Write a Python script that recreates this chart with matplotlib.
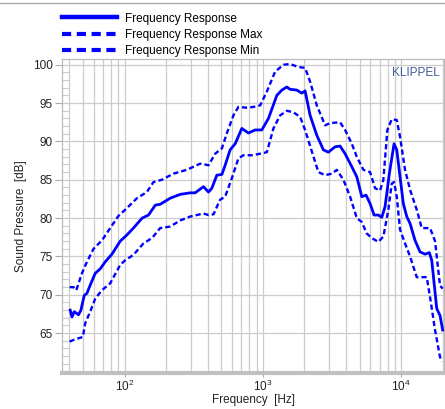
import matplotlib
matplotlib.use("Agg")
import matplotlib.pyplot as plt
from matplotlib.lines import Line2D
from matplotlib.ticker import LogLocator, MultipleLocator, NullFormatter

plt.rcParams["font.family"] = ["Liberation Sans", "DejaVu Sans"]

# ---- data (Hz, dB) ----
f_mid = [40.5, 41.7, 43.3, 46.5, 48.4, 51.1, 53.5, 57.2, 61.4, 66.8, 72.5, 81.1, 93.1, 104, 116, 134, 149,
         167, 181, 214, 253, 298, 324, 372, 405, 428, 465, 506, 534, 580, 631, 705, 787, 880, 983, 1098,
         1262, 1372, 1491, 1575, 1761, 1913, 2021, 2197, 2456, 2741, 2979, 3330, 3618, 3933, 4397, 4777,
         5192, 5577, 5961, 6371, 6844, 7242, 7650, 8216, 8886, 9295, 9817, 10370, 10980, 11600, 12600,
         13690, 14880, 15990, 16640, 18090, 19100, 19970]
spl_mid = [68.0, 67.1, 67.8, 67.4, 68.0, 69.9, 70.2, 71.5, 72.8, 73.4, 74.3, 75.3, 77.0, 77.8, 78.7, 80.0, 80.4,
           81.7, 81.8, 82.6, 83.1, 83.3, 83.3, 84.1, 83.4, 83.9, 85.6, 85.7, 86.9, 88.9, 89.7, 91.7, 91.1, 91.5,
           91.5, 93.0, 96.0, 96.7, 97.1, 96.8, 96.7, 96.3, 96.6, 93.4, 90.8, 88.9, 88.6, 89.3, 89.4, 88.4, 86.7,
           85.4, 82.8, 83.0, 81.9, 80.4, 80.4, 80.1, 81.5, 85.8, 89.7, 88.9, 85.4, 81.9, 80.2, 79.3, 77.1,
           75.6, 75.3, 75.5, 74.5, 68.2, 67.3, 65.4]

f_max = [40.1, 42.8, 44.8, 49.2, 53.5, 59.7, 68.7, 78.8, 90.5, 104, 123, 145, 162, 186, 226, 282, 352, 405,
         452, 506, 550, 613, 666, 766, 855, 956, 1069, 1227, 1409, 1575, 1808, 2021, 2197, 2456, 2820, 3064,
         3618, 3933, 4397, 4777, 5333, 5961, 6478, 7040, 7437, 7948, 8553, 9295, 9817, 10670, 11600, 12960,
         14090, 15310, 16180, 17580, 18090, 19100, 19970]
spl_max = [71.0, 71.0, 70.6, 72.8, 74.3, 76.0, 77.1, 78.7, 80.3, 81.3, 82.6, 83.4, 84.7, 85.0, 85.8, 86.3, 87.1,
           86.9, 88.4, 89.1, 91.1, 93.4, 94.5, 94.4, 94.5, 94.7, 96.5, 99.1, 100.0, 100.1, 99.7, 99.6, 97.8,
           94.7, 92.1, 92.4, 92.5, 91.5, 89.7, 88.0, 86.3, 86.0, 83.9, 83.6, 85.0, 91.5, 92.9, 92.8, 90.6,
           86.3, 83.7, 81.1, 78.7, 78.7, 78.7, 77.0, 75.0, 71.2, 70.8]

f_min = [40.1, 44.0, 50.0, 52.0, 56.5, 61.4, 68.7, 78.8, 93.1, 101, 116, 137, 158, 181, 214, 253, 298, 372,
         405, 440, 491, 534, 597, 666, 724, 833, 956, 1069, 1193, 1334, 1491, 1664, 1860, 2021, 2260, 2522,
         2820, 3152, 3425, 3823, 4274, 4777, 5192, 5641, 6132, 6844, 7437, 8081, 8553, 8886, 9295, 9817,
         10670, 11600, 12960, 15310, 16180, 17580, 19100, 19660]
spl_min = [63.9, 64.2, 64.5, 66.3, 67.8, 69.5, 70.6, 71.5, 73.9, 74.5, 75.2, 76.7, 77.4, 78.7, 78.9, 79.7, 80.2,
           80.6, 80.4, 80.5, 82.4, 82.8, 85.2, 87.8, 88.2, 88.2, 88.4, 88.6, 91.7, 93.4, 94.0, 93.8, 93.2,
           91.5, 88.7, 86.0, 85.6, 85.8, 86.3, 85.0, 82.8, 80.0, 79.5, 78.0, 77.4, 76.9, 77.6, 81.1, 84.5,
           84.7, 82.8, 78.5, 76.7, 75.0, 72.3, 72.3, 69.7, 65.4, 61.9, 61.3]

BLUE = "#0000ff"
GRID = "#cccccc"

fig = plt.figure(figsize=(4.45, 4.09), dpi=100)
ax = fig.add_axes([0.1404, 0.088, 0.8573, 0.7677])

ax.plot(f_mid, spl_mid, color=BLUE, lw=2.0, zorder=3)
dash = (0, (2.2, 1.3))
ax.plot(f_max, spl_max, color=BLUE, lw=1.7, ls=dash, zorder=3)
ax.plot(f_min, spl_min, color=BLUE, lw=1.7, ls=dash, zorder=3)

ax.set_xscale("log")
ax.set_xlim(35.6, 20400)
ax.set_ylim(59.8, 100.75)

ax.xaxis.set_major_locator(LogLocator(base=10, numticks=10))
ax.xaxis.set_minor_locator(LogLocator(base=10, subs=range(2, 10), numticks=20))
ax.xaxis.set_minor_formatter(NullFormatter())
ax.yaxis.set_minor_locator(MultipleLocator(1))
ax.set_yticks([65, 70, 75, 80, 85, 90, 95, 100])

ax.grid(True, which="major", axis="both", color=GRID, lw=0.9, zorder=0)
ax.grid(True, which="minor", axis="x", color=GRID, lw=0.9, zorder=0)

ax.tick_params(axis="y", which="major", direction="out", length=5, width=0.8, color="#aaaaaa",
               labelsize=8.5, labelcolor="#222222", pad=2)
ax.tick_params(axis="y", which="minor", direction="in", length=5, width=0.8, color=GRID)
ax.tick_params(axis="x", which="major", direction="out", length=3, width=0.8, color="#aaaaaa",
               labelsize=8.5, labelcolor="#222222", pad=1.5)
ax.tick_params(axis="x", which="minor", length=0)

for side in ("top", "right", "left"):
    ax.spines[side].set_color("#bbbbbb")
    ax.spines[side].set_linewidth(0.9)
ax.spines["bottom"].set_color("#c0c0c0")
ax.spines["bottom"].set_linewidth(3.0)

ax.set_xlabel("Frequency  [Hz]", fontsize=8.5, color="#222222", labelpad=0)
ax.set_ylabel("Sound Pressure  [dB]", fontsize=8.5, color="#222222", labelpad=4)

ax.text(0.99, 0.975, "KLIPPEL", transform=ax.transAxes, ha="right", va="top",
        fontsize=8.5, color="#3f5a9c")

handles = [Line2D([], [], color=BLUE, lw=3.2),
           Line2D([], [], color=BLUE, lw=3.0, ls=(0, (2.2, 1.35))),
           Line2D([], [], color=BLUE, lw=3.0, ls=(0, (2.2, 1.35)))]
labels = ["Frequency Response", "Frequency Response Max", "Frequency Response Min"]
fig.legend(handles, labels, loc="upper left", bbox_to_anchor=(0.135, 0.975), frameon=False,
           fontsize=8.5, handlelength=4.6, handletextpad=0.7, labelspacing=0.35,
           borderpad=0.2, borderaxespad=0)

fig.add_artist(Line2D([0, 0.998], [0.993, 0.993], transform=fig.transFigure, color="#aaaaaa", lw=1))

fig.savefig("out.png", dpi=100)
